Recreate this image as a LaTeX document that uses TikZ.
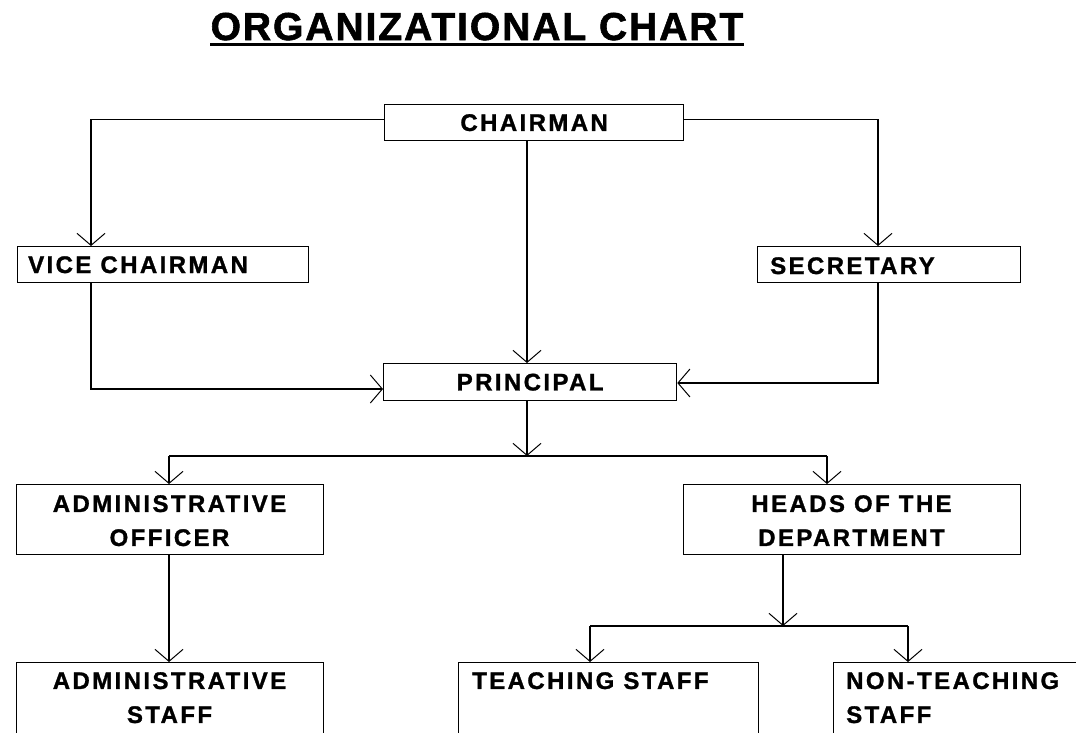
\documentclass[tikz,border=0pt]{standalone}
\usepackage{fontspec}
\setmainfont{Liberation Sans}
\newfontfamily\lblfont[LetterSpace=10, FakeBold=1.2]{Liberation Sans Bold}
\newfontfamily\ttlfont[LetterSpace=5, FakeBold=1.5]{Liberation Sans Bold}
\usetikzlibrary{arrows.meta}
\begin{document}
\begin{tikzpicture}[x=1pt,y=-1pt,
  box/.style={draw, line width=1.3pt, inner sep=0pt, anchor=north west},
  lbl/.style={font=\lblfont\fontsize{24}{34}\selectfont, inner sep=0pt},
  ttl/.style={font=\ttlfont\fontsize{39}{44}\selectfont, inner sep=0pt},
  conn/.style={line width=1.2pt},
  arr/.style={conn, -{Straight Barb[length=12pt,width=28pt,line width=1pt]}}
]
\useasboundingbox (0,0) rectangle (1076,732);
\fill[white] (0,0) rectangle (1076,732);
\clip (0,0) rectangle (1076,732);

% title
\node[ttl, anchor=base] (title) at (477,40) {ORGANIZATIONAL CHART};
\draw[line width=2.2pt] ([yshift=-4.5pt]title.base west) -- ([yshift=-4.5pt]title.base east);

% boxes
\node[box, minimum width=299pt, minimum height=36pt] (chair) at (384,104) {};
\node[box, minimum width=291pt, minimum height=36pt] (vice)  at (17,246) {};
\node[box, minimum width=263pt, minimum height=36pt] (sec)   at (757,246) {};
\node[box, minimum width=293pt, minimum height=37pt] (princ) at (383,363) {};
\node[box, minimum width=307pt, minimum height=70pt] (admo)  at (16,484) {};
\node[box, minimum width=337pt, minimum height=70pt] (heads) at (683,484) {};
\node[box, minimum width=307pt, minimum height=110pt] (adms) at (16,662) {};
\node[box, minimum width=300pt, minimum height=110pt] (teach) at (458,662) {};
\node[box, minimum width=300pt, minimum height=110pt] (nont) at (833,662) {};

% labels
\node[lbl] (tchair) at (chair.center) {CHAIRMAN};
\node[lbl, anchor=base west] (tvice) at (28,273) {VICE CHAIRMAN};
\node[lbl, anchor=base west] (tsec) at (770,274) {SECRETARY};
\node[lbl] (tprinc) at (princ.center) {PRINCIPAL};
\node[lbl, align=center, anchor=north] (tadmo) at (169.5,495) {ADMINISTRATIVE\\OFFICER};
\node[lbl, align=center, anchor=north] (theads) at (851.5,495) {HEADS OF THE\\DEPARTMENT};
\node[lbl, align=center, anchor=north] (tadms) at (169.5,672) {ADMINISTRATIVE\\STAFF};
\node[lbl, anchor=north west] (tteach) at (472,672) {TEACHING STAFF};
\node[lbl, align=left, anchor=north west] (tnont) at (846,672) {NON-TEACHING\\STAFF};

% helper coordinates
\coordinate (xv) at (91,0);
\coordinate (xs) at (878,0);
\coordinate (xp) at (527,0);
\coordinate (xa) at (169,0);
\coordinate (xh) at (827,0);
\coordinate (xd) at (783,0);
\coordinate (xt) at (590,0);
\coordinate (xn) at (908,0);
\coordinate (yl) at (0,389);
\coordinate (yr) at (0,383);
\coordinate (j1) at (527,456);
\coordinate (j2) at (783,626);

% connectors
\draw[arr] ([yshift=3pt]chair.west) -| (vice.north -| xv);
\draw[arr] ([yshift=3pt]chair.east) -| (sec.north -| xs);
\draw[arr] (chair.south -| xp) -- (princ.north -| xp);
\draw[arr] (vice.south -| xv) |- (princ.west |- yl);
\draw[arr] (sec.south -| xs) |- (princ.east |- yr);
\draw[arr] (princ.south -| xp) -- (j1);
\draw[conn] (j1 -| xa) -- (j1 -| xh);
\draw[arr] (j1 -| xa) -- (admo.north -| xa);
\draw[arr] (j1 -| xh) -- (heads.north -| xh);
\draw[arr] (admo.south -| xa) -- (adms.north -| xa);
\draw[arr] (heads.south -| xd) -- (j2);
\draw[conn] (j2 -| xt) -- (j2 -| xn);
\draw[arr] (j2 -| xt) -- (teach.north -| xt);
\draw[arr] (j2 -| xn) -- (nont.north -| xn);
\end{tikzpicture}
\end{document}
